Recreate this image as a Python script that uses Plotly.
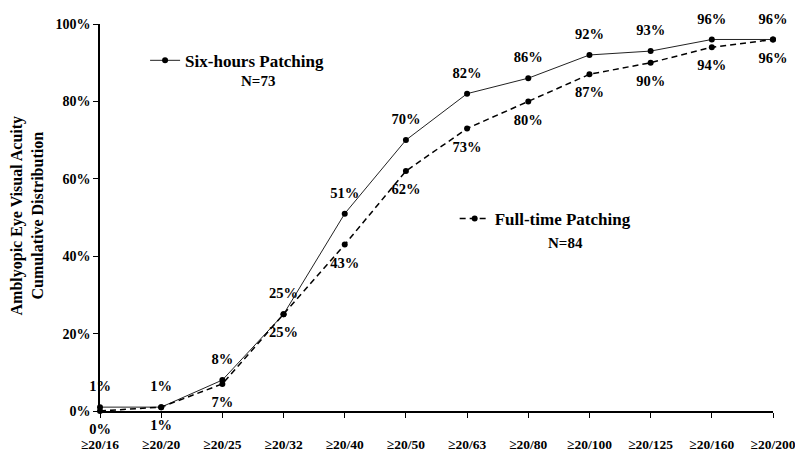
import plotly.graph_objects as go

# Visual acuity thresholds (cumulative)
acuity = ["≥20/16", "≥20/20", "≥20/25", "≥20/32", "≥20/40", "≥20/50",
          "≥20/63", "≥20/80", "≥20/100", "≥20/125", "≥20/160", "≥20/200"]

# Cumulative distribution (%) per patching regimen
six_hours = [1, 1, 8, 25, 51, 70, 82, 86, 92, 93, 96, 96]
full_time = [0, 1, 7, 25, 43, 62, 73, 80, 87, 90, 94, 96]

y_ticks = [0, 20, 40, 60, 80, 100]
y_tick_text = [f"{v}%" for v in y_ticks]

SERIF = "Liberation Serif, Times New Roman, serif"


def bold(size):
    return dict(family=SERIF, size=size, color="black", weight="bold")


x_idx = list(range(len(acuity)))

fig = go.Figure()

fig.add_trace(go.Scatter(
    x=x_idx, y=six_hours, name="Six-hours Patching", legend="legend",
    mode="lines+markers",
    line=dict(color="#222222", width=1),
    marker=dict(color="black", size=6),
    cliponaxis=False,
))

fig.add_trace(go.Scatter(
    x=x_idx, y=full_time, name="Full-time Patching", legend="legend2",
    mode="lines+markers",
    line=dict(color="black", width=1.5, dash="6px,4px"),
    marker=dict(color="black", size=6),
    cliponaxis=False,
))

# Value labels; a transparent marker spaces each label off its point
for values, pos in ((six_hours, "top center"), (full_time, "bottom center")):
    fig.add_trace(go.Scatter(
        x=x_idx, y=values, mode="markers+text", showlegend=False,
        marker=dict(size=18, opacity=0), hoverinfo="skip",
        text=[f"{v}%" for v in values], textposition=pos,
        textfont=bold(14.5), cliponaxis=False,
    ))

legend_common = dict(
    font=bold(17), bgcolor="rgba(0,0,0,0)", itemwidth=30,
    xanchor="left", yanchor="middle", tracegroupgap=0,
)

fig.update_layout(
    width=795, height=455,
    margin=dict(l=100, r=22, t=24, b=44),
    paper_bgcolor="white", plot_bgcolor="white",
    font=bold(14),
    showlegend=True,
    legend=dict(x=0.067, y=0.905, **legend_common),
    legend2=dict(x=0.527, y=0.496, **legend_common),
    xaxis=dict(
        range=[0, 11], tickvals=x_idx, ticktext=acuity,
        showline=True, linecolor="black", linewidth=1.5,
        ticks="outside", ticklen=5, tickcolor="black", tickwidth=1,
        ticklabelstandoff=15, ticklabeloverflow="allow", tickfont=bold(13.5),
        automargin=False, showgrid=False, zeroline=False,
    ),
    yaxis=dict(
        range=[0, 100], tickvals=y_ticks, ticktext=y_tick_text,
        showline=True, linecolor="black", linewidth=1.5,
        ticks="outside", ticklen=5, tickcolor="black", tickwidth=1,
        tickfont=bold(14), automargin=False,
        showgrid=False, zeroline=False,
    ),
    annotations=[
        dict(text="Amblyopic Eye Visual Acuity<br>Cumulative Distribution",
             xref="paper", yref="paper", x=-0.108, y=0.506,
             xanchor="center", yanchor="middle",
             textangle=-90, showarrow=False, font=bold(16)),
        dict(text="N=73", xref="paper", yref="paper", x=0.235, y=0.853,
             xanchor="center", yanchor="middle",
             showarrow=False, font=bold(15)),
        dict(text="N=84", xref="paper", yref="paper", x=0.692, y=0.434,
             xanchor="center", yanchor="middle",
             showarrow=False, font=bold(15)),
    ],
)

fig.write_html("out.html")
